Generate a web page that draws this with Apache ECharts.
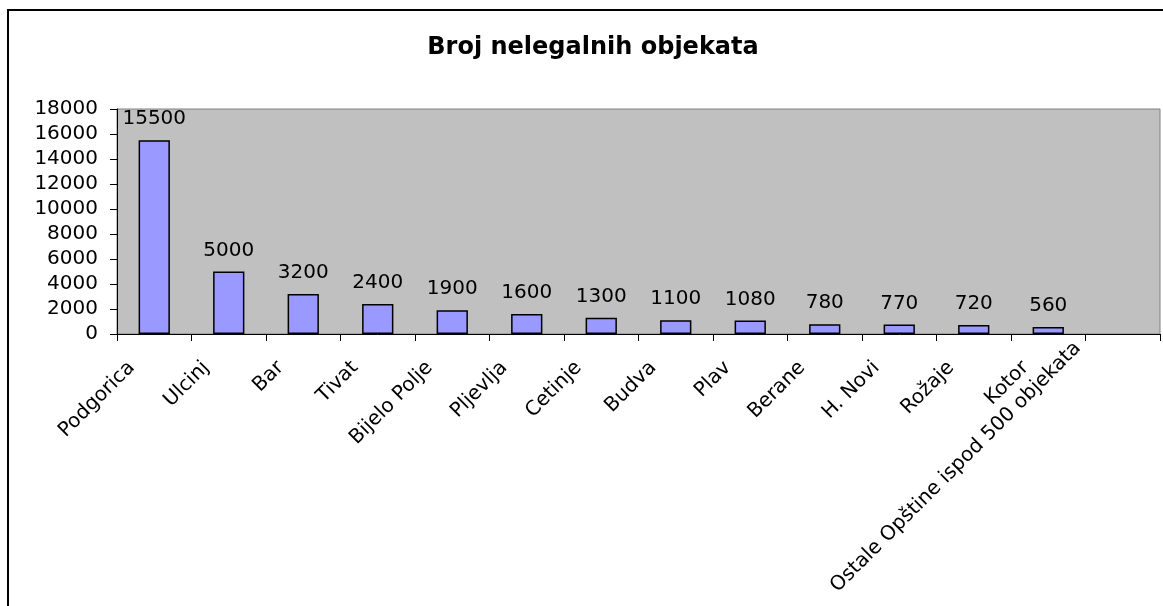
<!DOCTYPE html>
<html>
<head>
<meta charset="utf-8">
<script src="https://cdn.jsdelivr.net/npm/echarts@6/dist/echarts.min.js"></script>
<style>
  html, body { margin: 0; padding: 0; background: #fff; }
  #chart { width: 1163px; height: 606px; }
</style>
</head>
<body>
<div id="chart"></div>
<script>
const chartTitle = 'Broj nelegalnih objekata'
const categories = ['Podgorica', 'Ulcinj', 'Bar', 'Tivat', 'Bijelo Polje', 'Pljevlja', 'Cetinje',
  'Budva', 'Plav', 'Berane', 'H. Novi', 'Rožaje', 'Kotor', 'Ostale Opštine ispod 500 objekata']
const values = [15500, 5000, 3200, 2400, 1900, 1600, 1300, 1100, 1080, 780, 770, 720, 560, null]
const yMin = 0
const yMax = 18000
const yStep = 2000

const font = 'DejaVu Sans, Liberation Sans, Arial, sans-serif'
const chart = echarts.init(document.getElementById('chart'))

const option = {
  animation: false,
  backgroundColor: '#fff',
  title: {
    text: chartTitle,
    left: 588,
    textAlign: 'center',
    top: 31,
    textStyle: { fontFamily: font, fontSize: 24, fontWeight: 'bold', color: '#000' }
  },
  graphic: [{
    type: 'rect',
    shape: { x: 8, y: 10, width: 1200, height: 700 },
    style: { fill: 'none', stroke: '#000', lineWidth: 2 },
    silent: true
  }],
  grid: {
    left: 117, right: 3, top: 109, bottom: 272,
    show: true,
    backgroundColor: '#c0c0c0',
    borderColor: '#808080',
    borderWidth: 1
  },
  xAxis: {
    type: 'category',
    data: categories,
    axisLine: { lineStyle: { color: '#000', width: 1 } },
    axisTick: { show: true, length: 7, lineStyle: { color: '#000' } },
    axisLabel: {
      interval: 0,
      rotate: 45,
      margin: 8,
      padding: [0, 32, 0, 0],
      color: '#000',
      fontFamily: font,
      fontSize: 20,
      formatter: function (name, idx) {
        return idx === categories.length - 1 ? '{last|' + name + '}' : name
      },
      rich: {
        last: { fontFamily: font, fontSize: 20, color: '#000', padding: [0, 2, 59, 0] }
      }
    }
  },
  yAxis: {
    type: 'value',
    min: yMin,
    max: yMax,
    interval: yStep,
    splitLine: { show: false },
    axisLine: { show: true, lineStyle: { color: '#000', width: 1 } },
    axisTick: { show: true, length: 7, lineStyle: { color: '#000' } },
    axisLabel: {
      margin: 19, color: '#000', fontFamily: font, fontSize: 20,
      formatter: function (v) { return String(v) }
    }
  },
  series: [{
    type: 'bar',
    data: values,
    barWidth: '42%',
    itemStyle: { color: '#9999ff', borderColor: '#000', borderWidth: 1.5 },
    label: {
      show: true,
      position: 'top',
      distance: 11,
      color: '#000',
      fontFamily: font,
      fontSize: 20
    }
  }]
}

chart.setOption(option)
</script>
</body>
</html>
